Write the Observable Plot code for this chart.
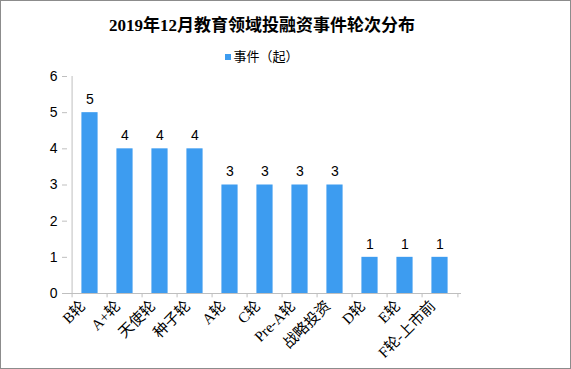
<!DOCTYPE html>
<html><head><meta charset="utf-8">
<script src="https://cdn.jsdelivr.net/npm/d3@7"></script>
<script src="https://cdn.jsdelivr.net/npm/@observablehq/plot@0.6"></script>
<style>
body{margin:0;background:#fff;}
#wrap{position:relative;width:569px;height:367px;border:1px solid #8c8c8c;background:#fff;overflow:hidden;}
#title{position:absolute;top:10px;left:0;width:522px;text-align:center;font:bold 17px "Liberation Serif","Noto Sans CJK SC",serif;color:#000;}
#legend{position:absolute;top:45px;left:0;width:522px;text-align:center;font:13px "Noto Sans CJK SC",sans-serif;color:#000;}
#legend span.sw{display:inline-block;width:6px;height:6px;background:#3d9cf0;margin-right:2px;vertical-align:middle;}
#chart{position:absolute;top:0;left:0;}
</style></head>
<body>
<div id="wrap">
<div id="title">2019年12月教育领域投融资事件轮次分布</div>
<div id="legend"><span class="sw"></span>事件（起）</div>
<div id="chart"></div>
</div>
<script>
const categories = ["B轮","A+轮","天使轮","种子轮","A轮","C轮","Pre-A轮","战略投资","D轮","E轮","F轮-上市前"];
const values = [5,4,4,4,3,3,3,3,1,1,1];
const yTicks = [0,1,2,3,4,5,6];

const data = categories.map((c,i)=>({cat:c, val:values[i]}));
const W = 569, H = 367, mL = 66, mR = 109, mT = 75, mB = 75;
const step = (W - mL - mR) / categories.length;
const barW = 17;
const inset = (step - barW) / 2;
const axisColor = "#bfbfbf";

const plot = Plot.plot({
  width: W, height: H,
  marginLeft: mL, marginRight: mR, marginTop: mT, marginBottom: mB,
  style: {background: "transparent", fontFamily: "'Liberation Sans','Noto Sans CJK SC',sans-serif", fontSize: "14px", color:"#000"},
  x: {domain: categories, padding: 0, label: null},
  y: {domain: [0, 6], label: null},
  marks: [
    Plot.barY(data, {x: "cat", y: "val", fill: "#3d9cf0", insetLeft: inset, insetRight: inset}),
    Plot.text(data, {x: "cat", y: "val", text: d => String(d.val), dy: -13, fontSize: 14, fill: "#000"}),
    Plot.ruleY([0], {stroke: axisColor}),
    Plot.ruleX([0], {x: () => categories[0], dx: -step/2, y1: 0, y2: 6, stroke: axisColor}),
    Plot.ruleX(categories, {x: d => d, dx: -step/2, y1: 0, y2: -0.12, stroke: axisColor}),
    Plot.ruleX([categories[categories.length-1]], {x: d => d, dx: step/2, y1: 0, y2: -0.12, stroke: axisColor}),
    Plot.axisY(yTicks, {tickSize: 5, tickPadding: 5, stroke: axisColor, fill: "#000", fontSize: 14, label: null}),
    Plot.axisX({tickSize: 0, tickRotate: -45, tickPadding: 10, dx: -7, fontSize: 15, fill: "#000",
      fontFamily: "'Liberation Serif','Noto Sans CJK SC',serif", label: null})
  ]
});
document.getElementById("chart").appendChild(plot);
</script>
</body></html>
